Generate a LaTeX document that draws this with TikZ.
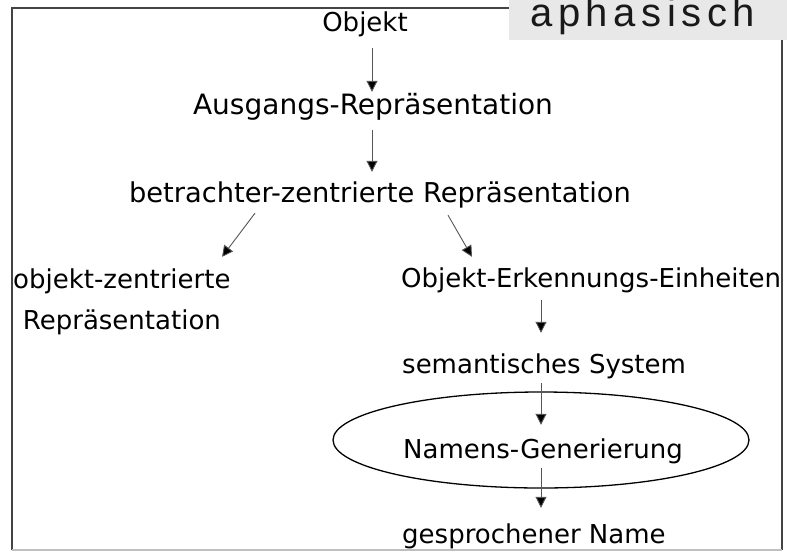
\documentclass[tikz,border=0pt]{standalone}
\usepackage{fontspec}
\setmainfont{DejaVu Sans}
\newfontfamily\labelfont[LetterSpace=14]{Liberation Sans}
\usetikzlibrary{arrows.meta,calc,shapes.geometric}
\definecolor{framegray}{HTML}{444444}
\definecolor{boxgray}{HTML}{E8E8E8}
\definecolor{linegray}{HTML}{555555}
\begin{document}
\begin{tikzpicture}[x=1pt,y=-1pt,
  lbl/.style={inner sep=0pt,text height=20pt,text depth=6pt,font=\fontsize{#1}{41}\selectfont,text=black},
  lbl/.default=26,
  arr/.style={draw=linegray,line width=0.9pt,-{Triangle[length=11pt,width=11pt,fill=black]}},
  framepen/.style={draw=framegray,line width=1.6pt},
  ring/.style={draw=black,line width=1.3pt}]
\useasboundingbox (0,0) rectangle (787,552);
% frame
\draw[framepen] (509,8) -- (12,8) -- (12,550);
\draw[framepen] (782,40) -- (782,550);
\draw[draw=black!25,line width=1.6pt] (12,550) -- (782,550);
% label box
\fill[boxgray] (509,0) rectangle (787,40);
\node[anchor=base west,inner sep=0pt,font=\labelfont\fontsize{40}{40}\selectfont,text=black!90] (tag) at (530,26) {aphasisch};
% nodes
\node[lbl,anchor=base] (obj) at (365,31) {Objekt};
\node[lbl=28,anchor=base] (aus) at (373,114) {Ausgangs-Repräsentation};
\node[lbl=27.3,anchor=base] (betr) at (380,202) {betrachter-zentrierte Repräsentation};
\node[lbl,anchor=base west] (objz) at (13,288) {objekt-zentrierte};
\node[lbl,anchor=base] (objzb) at (objz.base |- 0,329) {Repräsentation};
\node[lbl,anchor=base west] (oeu) at (401,287) {Objekt-Erkennungs-Einheiten};
\node[lbl,anchor=base west] (sem) at (402,373) {semantisches System};
\node[lbl,anchor=base west] (nam) at (403,458) {Namens-Generierung};
\node[lbl,anchor=base west] (gesp) at (402,543) {gesprochener Name};
% ellipse
\node[ring,ellipse,minimum width=416pt,minimum height=96pt,inner sep=0pt] (ring) at (541,440) {};
% x guides
\coordinate (xa) at (372,0);
\coordinate (xb) at (541,0);
\coordinate (xl1) at (258.75,0);
\coordinate (xl2) at (213.75,0);
\coordinate (xr1) at (444,0);
\coordinate (xr2) at (477.7,0);
% arrows
\draw[arr,shorten <=11pt,shorten >=2pt] (obj.south -| xa) -- (aus.north -| xa);
\draw[arr,shorten <=10pt,shorten >=10pt] (aus.south -| xa) -- (betr.north -| xa);
\draw[arr,shorten <=6.25pt,shorten >=13.75pt] (betr.south -| xl1) -- (objz.north -| xl2);
\draw[arr,shorten <=8pt,shorten >=11.5pt] (betr.south -| xr1) -- (oeu.north -| xr2);
\draw[arr,shorten <=7pt,shorten >=20pt] (oeu.south -| xb) -- (sem.north -| xb);
\draw[arr,shorten <=4pt,shorten >=13pt] (sem.south -| xb) -- (nam.north -| xb);
\draw[arr,shorten <=4pt,shorten >=15pt] (nam.south -| xb) -- (gesp.north -| xb);
\end{tikzpicture}
\end{document}
